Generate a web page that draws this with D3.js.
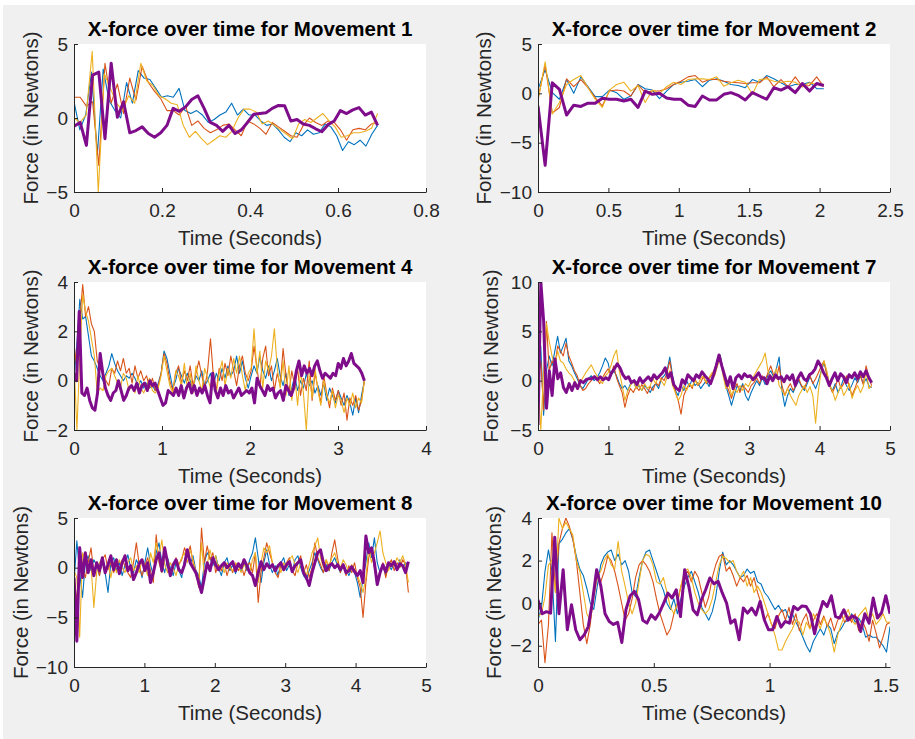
<!DOCTYPE html>
<html>
<head>
<meta charset="utf-8">
<script src="https://cdn.jsdelivr.net/npm/d3@7"></script>
<style>
  body { margin: 0; background: #fff; }
  svg { display: block; }
</style>
</head>
<body>
<div id="fig"></div>
<script>
// Movement 1 (0 .. 0.69 s)
const m1Blue = [1.1,-0.8,0.2,3.1,-2.5,3.3,1.2,0.5,0.0,2.4,1.0,3.2,2.7,2.6,2.0,1.4,1.5,1.4,2.0,0.5,0.3,0.5,0.2,-0.3,-0.1,0.2,0.4,1.0,0.2,0.6,0.2,0.2,-0.2,-0.5,-0.4,-0.8,-1.3,-1.6,-1.0,-1.2,-0.8,-1.1,-1.0,-0.4,-0.6,-1.2,-2.2,-1.6,-1.8,-1.5,-1.9,-1.1,-0.5];
const m1Orange = [1.4,1.4,0.8,1.1,-3.2,3.7,1.0,2.3,0.3,2.7,1.2,3.5,2.4,1.8,1.3,0.5,0.5,0.2,0.8,-0.5,-0.2,-0.7,-1.0,-0.8,-0.5,-0.4,-0.8,-1.2,-0.2,-0.4,-0.7,-1.1,-0.3,-0.6,-0.9,-1.2,-1.3,-0.5,0.0,-0.3,-0.5,-0.2,-0.3,-0.8,-1.5,-0.8,-0.7,-0.8,-0.4,-0.3];
const m1Yellow = [0.0,-0.3,0.2,4.5,-5.0,3.0,2.0,1.0,0.5,1.5,1.0,3.7,2.5,2.2,1.5,1.3,1.0,0.9,-0.5,-1.3,-0.9,-1.4,-1.8,-1.5,-1.2,-1.3,-0.9,0.0,0.6,0.6,0.4,-0.4,-0.2,-0.5,-0.8,-1.1,-1.4,-0.4,-0.1,-0.3,0.0,0.3,-0.2,-0.6,-1.3,-1.2,-1.0,-1.0,-0.9,-0.7,0.3];
const m1Purple = [-0.56,-0.3,-1.85,2.9,3.1,-1.4,3.7,0.05,1.1,-1.0,-0.85,-0.6,-1.05,-1.3,-1.0,-0.5,0.65,0.45,0.75,1.25,1.5,0.65,-0.3,-0.5,-0.9,-0.5,-1.05,-0.8,-0.3,0.25,0.3,0.35,0.65,0.85,0.82,-0.2,-0.1,-0.4,-0.5,-0.73,-0.93,-0.45,-0.2,0.5,0.3,0.55,0.7,0.2,0.4,-0.5];

// Movement 2 (0 .. 2.03 s)
const m2Blue = [0.4,2.4,0.07,-0.6,1.4,0,1.67,0.67,-0.33,-0.33,0.33,0.07,-0.6,-0.27,0.9,0.47,0.33,-0.53,0.23,0.9,1.13,1.23,1.4,0.67,1.33,1.47,1.23,0.9,0.8,0.57,1.4,1.13,1.8,1.47,1.07,0.67,0.9,0.9,1.13,0.47,0.47];
const m2Orange = [-0.6,2.9,-2.0,-1.43,1.47,0.67,1.4,0.57,-0.43,-1.27,0.23,0.33,0.23,-0.27,0.87,0.07,0.23,0.23,0.47,0.9,1.23,1.67,1.8,1.13,1.4,1.4,1.23,1.13,1.07,1.0,1.07,1.07,1.67,0.67,1.4,0.67,1.67,0.67,0.8,1.67,0.67];
const m2Yellow = [-0.77,3.2,-2.1,-0.93,0.9,1.4,1.8,0.57,-0.6,-1.43,0.33,0.9,1.13,0.23,0.8,-0.93,0.33,0,0.67,1.13,0.9,1.4,1.47,1.47,1.4,1.67,0.73,1.07,1.33,1.13,-0.1,1.4,1.47,1.23,1.13,1.23,1.13,0.67,1.07,0.9,0.8];
const m2Purple = [-1.27,-7.3,1.07,0.4,-2.2,-1.2,-1.33,-1.0,-1.0,-0.5,-0.6,-0.6,-0.77,-0.6,-1.43,0.23,-0.1,0,-0.47,-0.6,-0.6,-1.2,-1.33,-0.27,-0.67,-0.67,-0.1,0.07,-0.2,-0.67,0.07,-0.27,-0.6,0.57,0.33,0.67,0.07,1.0,0.23,1.0,0.8];

// Movement 4 (0 .. 3.3 s)
const m4Blue = [0.0,1.5,3.3,2.5,2.6,1.8,1.0,0.8,0.5,0.2,0.0,0.3,0.6,1.1,0.7,0.4,0.2,0.0,0.2,0.1,0.3,0.1,-0.2,0.0,-0.3,-0.1,-0.3,-0.2,-0.4,-0.1,0.3,1.2,0.9,0.3,-0.3,0.0,0.5,0.2,-0.1,0.3,0.0,-0.3,0.2,0.0,0.4,-0.2,0.0,0.3,-0.2,0.3,0.0,0.5,0.1,0.6,0.2,0.4,1.0,0.3,0.8,0.1,-0.3,0.2,0.6,0.3,1.0,0.4,0.1,0.6,0.0,0.4,0.9,0.2,-0.2,0.3,-0.6,-0.3,0.2,-0.4,0.0,-0.3,0.3,-0.2,0.0,-0.5,-0.2,-0.6,-0.1,-0.8,-0.3,-0.6,-0.9,-0.4,-0.7,-1.0,-0.6,-0.9,-1.4,-0.7,-1.3,-0.6,0.0];
const m4Orange = [1.5,0.5,2.5,3.9,2.6,3.0,2.3,2.0,0.8,0.5,0.3,0.0,-0.2,0.5,0.3,0.8,0.4,0.9,0.3,0.5,-0.1,0.6,0.1,0.4,0.0,0.2,-0.3,0.1,-0.4,-0.2,0.3,1.1,0.7,0.0,-0.4,0.3,0.6,-0.1,0.4,0.0,0.6,-0.2,0.3,0.8,0.2,-0.3,0.4,1.7,0.2,-0.4,0.5,0.0,0.7,0.2,1.0,0.4,-0.2,0.6,1.0,0.3,0.0,0.4,1.4,0.5,-0.3,0.9,1.4,0.2,0.6,-0.4,0.3,-0.2,1.3,0.2,-0.5,0.4,-0.2,0.5,-0.6,0.1,-0.4,0.8,-0.8,0.3,-0.3,-0.9,0.2,-0.5,-1.1,-0.3,-0.8,-0.4,-1.0,-0.5,-1.6,-0.7,-1.0,-0.6,-1.2,-0.8,0.0];
const m4Yellow = [0.8,-2.0,1.0,3.5,2.8,2.4,1.7,1.0,-0.5,-0.3,-0.4,0.2,0.4,0.5,0.2,-0.1,-0.3,0.3,0.1,-0.4,-0.2,-0.5,0.2,-0.3,-0.5,-0.2,0.1,-0.4,-0.5,-0.3,0.2,1.0,0.4,-0.2,-0.5,0.4,0.2,-0.2,0.7,-0.3,0.3,-0.5,0.6,0.0,-0.4,0.5,0.1,-0.3,0.4,-0.5,0.3,0.8,-0.2,0.5,0.1,0.9,0.3,1.0,0.2,-0.4,0.3,0.5,2.1,0.3,1.2,-0.3,0.8,0.4,1.0,2.1,0.5,-0.3,0.8,-0.6,0.6,-0.8,0.2,-1.0,0.4,-0.5,-2.0,0.2,-0.7,0.5,-0.4,-1.0,0.0,-0.6,-0.9,-0.4,-1.1,-0.6,-0.8,-1.3,-0.7,-1.0,-0.5,-1.1,-0.7,-0.9,0.0];
const m4Purple = [0.3,0.0,2.8,-0.5,-0.6,-0.3,-0.8,-1.1,-1.2,-0.5,1.1,0.3,-0.3,-0.6,-0.8,-0.5,-0.4,0.0,-0.4,-0.8,-0.6,-0.3,-0.2,-0.4,-0.1,-0.5,-0.2,-0.1,-0.4,0.0,-0.2,-0.1,-0.4,-0.7,-1.0,-0.9,-0.4,-0.5,-0.6,-0.3,-0.6,-0.2,-0.7,-0.3,-0.1,-0.5,-0.2,-0.6,-0.3,-0.5,-0.2,-0.6,-0.9,0.3,-0.4,-0.7,-0.3,-0.6,-0.2,-0.5,-0.4,-0.7,-0.5,-0.3,-0.6,-0.5,-0.4,-0.5,-0.3,-0.9,0.1,-0.2,-0.4,-0.6,-0.2,-0.4,-0.3,-0.7,-0.5,-0.4,-0.8,-0.2,-0.4,-0.6,-0.3,0.4,0.8,0.2,0.6,0.3,0.5,0.2,0.6,0.8,0.4,0.1,0.3,0.2,0.1,0.3,0.2,0.7,0.5,0.9,0.6,0.8,1.1,0.7,0.6,0.5,0.3,0.0];

// Movement 7 (0 .. 4.74 s)
const m7Blue = [0.0,3.5,-3.5,1.0,2.5,1.5,3.0,4.5,2.8,3.5,4.3,2.0,1.5,0.8,0.2,-0.5,-0.8,-0.3,0.2,0.5,0.0,0.3,0.8,1.5,2.3,1.8,0.5,1.0,0.5,-0.3,-0.8,-0.5,-1.0,-0.3,0.0,-0.8,-0.5,-1.0,-0.5,-0.8,-1.2,-0.6,-0.3,-0.8,0.2,0.5,1.0,2.4,0.5,-1.0,-1.5,-0.5,-1.0,0.0,-0.6,0.2,-0.5,-0.2,-0.8,-0.4,0.0,-0.6,0.3,1.0,2.2,2.6,1.0,-0.5,-1.5,-2.5,-1.5,-0.5,-1.0,-0.3,-1.5,-2.0,-1.2,-0.6,0.0,-0.5,0.3,-0.4,0.6,1.0,0.4,1.2,2.4,-1.0,-2.6,-1.5,-0.8,-1.2,-0.5,0.0,-0.6,-1.0,-0.3,0.4,-0.2,-0.8,0.0,1.0,1.8,0.8,-0.5,-1.0,-0.3,-1.2,-0.6,0.2,-0.5,-1.0,-0.4,0.3,-0.2,0.5,-0.3,0.2,-0.5,-0.7];
const m7Orange = [0.0,2.0,-3.0,6.0,1.0,2.0,1.5,3.5,3.0,2.5,3.8,2.5,1.8,1.0,0.5,-0.5,-1.0,-0.8,-0.3,0.0,0.5,0.2,-0.3,0.3,0.8,1.2,0.6,1.5,0.3,-0.5,-1.2,-2.7,-1.5,-0.8,-1.2,-0.6,-1.0,-0.4,-0.8,-1.3,-0.6,-1.0,-0.2,-0.5,0.3,0.0,0.8,2.0,0.2,-1.2,-2.0,-3.4,-1.5,-0.8,-0.3,-0.8,0.2,-0.5,-0.2,0.4,-0.3,0.2,0.6,1.2,1.8,2.5,0.8,-0.3,-1.0,-1.8,-0.8,-0.3,-1.2,-0.5,-0.8,-1.2,-0.5,-0.2,0.3,-0.3,0.5,0.0,0.8,1.5,0.6,0.2,1.5,-0.5,-1.5,-0.8,-0.3,-1.0,-0.4,0.2,-0.5,-0.8,0.0,0.5,-0.3,0.2,0.8,1.5,2.0,0.5,-0.5,-1.2,-0.6,0.2,-0.8,-0.3,0.5,-0.6,-1.5,-0.8,0.0,0.5,-0.4,1.5,0.3,-0.5];
const m7Yellow = [0.0,-5.0,1.0,5.8,4.0,2.5,1.5,3.0,2.0,1.8,1.2,0.8,0.5,0.0,-0.5,-0.2,0.3,0.8,1.2,1.6,1.0,0.5,0.0,-0.3,0.5,0.8,1.5,2.5,3.1,1.0,-0.5,-2.0,-1.0,-0.5,0.0,-0.8,-0.4,-1.0,-0.3,-0.8,-0.5,0.2,-0.3,0.5,0.0,-0.5,0.3,1.0,-0.5,-1.2,-2.0,-1.5,-0.5,-1.0,-0.3,-0.6,0.0,-0.4,0.2,0.5,-0.2,0.3,0.8,0.5,1.5,2.2,0.5,-0.8,-0.3,-1.5,-0.8,-1.2,-0.5,-1.0,-0.3,-0.6,0.0,0.5,1.0,1.5,2.0,2.8,1.0,0.2,0.5,1.2,-0.5,-1.0,-1.5,-0.8,-1.5,-2.0,-2.5,-1.5,-1.0,-0.5,-1.2,-0.6,-1.5,-4.3,-1.0,1.0,2.0,1.0,-0.5,-1.0,-2.0,-1.2,-0.5,-1.5,-1.0,-0.3,-1.8,-1.0,-0.5,-1.2,-0.6,1.0,-0.8,-0.5];
const m7Purple = [-4.5,10.0,6.0,-2.8,1.0,-1.5,2.2,0.2,0.8,-0.7,-1.2,-0.3,-1.0,-0.2,-0.8,0.0,-0.2,0.1,0.2,0.2,0.4,0.1,0.4,0.1,0.3,0.1,0.8,1.2,1.7,1.3,0.6,0.2,0.4,-0.2,0.0,-0.4,0.3,-0.2,0.1,0.4,0.0,0.6,0.2,0.5,0.8,1.3,0.3,0.8,-0.4,-0.8,-1.0,0.1,-0.3,0.6,0.3,0.0,0.6,0.3,0.9,0.5,0.2,-0.3,0.5,1.5,2.6,1.5,0.5,-0.5,0.4,-0.8,0.3,0.6,0.2,0.7,0.4,0.5,0.1,0.4,0.8,0.2,0.3,-0.3,0.5,0.0,0.6,0.2,0.4,-0.1,0.5,0.1,0.6,-0.5,0.3,0.8,0.2,0.0,0.6,0.8,1.2,2.0,1.5,0.8,0.3,-0.5,0.2,0.8,0.0,0.7,0.4,-0.2,0.6,0.3,0.8,0.2,0.9,0.4,1.0,0.3,-0.2];

// Movement 8 (0 .. 4.75 s)
const m8Blue = [-1.5,2.7,-0.5,-3.0,0.5,1.2,-0.3,0.8,0.2,-0.8,1.0,-0.5,-2.5,0.5,1.0,-0.3,0.5,-0.8,0.3,1.3,0.0,-0.5,0.8,0.2,-1.0,0.5,2.0,0.3,-0.8,1.5,2.5,0.5,-0.5,1.0,0.0,-0.8,0.5,-0.3,-1.0,0.8,1.5,0.3,1.2,-0.3,-0.8,-2.0,0.5,1.5,1.0,0.2,1.2,0.0,-0.8,0.5,1.0,-0.3,0.3,-0.6,0.2,-0.4,0.5,-0.3,0.8,1.5,3.0,1.0,-1.5,0.5,1.8,0.3,-0.5,0.2,-0.8,0.5,1.0,-0.3,0.3,-0.5,0.8,1.2,0.0,-0.8,-1.2,-0.3,0.5,1.5,0.8,0.0,-0.5,0.3,-0.3,0.5,1.0,0.2,-0.5,0.3,-0.2,-0.8,0.0,-0.5,-1.5,-3.0,-1.0,0.5,2.5,1.0,3.0,0.5,-0.5,0.2,-0.8,0.3,-0.2,0.5,-0.3,0.8,0.0,0.5,0.3];
const m8Orange = [-0.5,-3.5,1.5,0.0,-1.0,0.5,2.0,-0.5,0.3,-0.8,0.8,1.3,-0.2,0.5,-0.5,0.3,-0.3,0.8,0.2,-0.5,-1.0,0.5,2.5,0.3,-0.8,0.2,1.0,-0.3,-1.5,3.3,0.5,-0.5,1.5,0.8,-0.5,0.0,1.0,0.3,0.8,2.0,1.2,2.2,0.5,-0.3,-2.0,4.0,0.5,2.2,0.8,1.5,-0.5,0.3,-0.3,0.5,-0.8,0.2,-0.5,0.4,-0.3,0.3,-0.8,0.2,0.5,-0.5,1.5,-3.5,-0.5,1.0,2.5,1.5,0.5,-0.5,-1.0,0.3,-0.3,0.5,1.0,-0.3,-0.8,0.5,1.2,-0.5,0.3,-1.0,0.0,2.5,1.0,0.3,-0.5,0.8,-0.3,1.5,2.8,1.0,-0.5,0.3,-0.8,0.2,-0.5,0.5,-1.0,-2.0,-5.0,-1.5,1.0,2.0,0.0,-1.0,-0.5,0.5,-1.0,0.3,0.8,-0.3,0.5,0.0,0.8,0.3,-2.5];
const m8Yellow = [-0.3,-1.0,-7.0,1.5,0.8,-0.5,0.3,-4.0,-0.5,0.5,1.0,-0.3,0.5,-1.0,0.5,-0.5,0.8,0.0,-0.5,0.5,1.0,-0.3,0.2,-0.5,0.8,0.3,-0.8,1.5,0.5,2.5,1.0,2.8,0.3,-0.5,0.5,0.0,-0.8,0.3,1.0,1.5,0.5,1.8,0.8,-0.5,-1.5,2.5,-1.0,0.3,1.8,0.5,1.2,-0.3,0.2,-0.5,0.5,0.0,-0.3,0.5,0.2,-0.5,0.3,0.0,-0.5,0.8,1.5,-1.5,0.5,2.0,1.5,2.2,0.5,-0.3,0.3,-0.5,0.5,0.0,0.8,1.2,0.3,-0.5,0.5,0.0,-0.8,0.3,1.5,2.2,3.0,1.0,0.0,0.8,0.2,1.0,1.5,0.5,0.0,0.8,0.3,-0.5,0.3,-0.2,-0.8,-1.5,-2.5,-1.0,2.0,0.5,1.5,2.5,3.7,1.5,0.5,-0.3,0.5,0.2,1.0,0.5,1.2,0.3,-1.5];
const m8Purple = [-1.0,-7.4,2.0,-1.0,1.5,-0.5,0.8,-0.8,0.5,-0.3,1.0,-0.5,0.3,1.2,-0.2,0.8,-0.6,0.5,1.2,-0.3,0.2,-1.2,-0.5,0.4,0.8,-0.3,0.5,-1.5,-0.5,0.8,1.5,-0.3,2.0,0.5,-0.8,0.3,0.8,-0.2,-0.5,0.3,1.8,0.5,0.0,-0.5,-1.5,-2.5,-1.0,0.5,-0.3,1.0,0.3,-0.2,0.2,0.5,0.0,0.3,0.6,-0.3,0.4,0.0,0.8,0.2,-0.5,-0.8,-1.8,-0.5,0.6,-0.2,0.4,0.0,0.3,-0.3,0.2,0.5,-0.2,0.3,0.6,-0.4,0.2,0.5,0.8,-0.5,-1.0,-1.8,-0.5,0.5,1.5,1.8,0.5,-0.3,0.2,0.4,0.0,0.3,-0.2,0.3,-0.5,-0.3,0.1,-0.4,-0.8,-0.3,-1.5,3.2,1.5,2.0,0.5,-1.7,-0.5,0.3,-0.4,0.5,0.2,0.6,-0.2,0.4,0.2,-0.5,0.6];

// Movement 10 (0 .. 1.52 s)
const m10Blue = [-0.8,-0.2,1.5,2.5,1.5,-1.8,2.8,3.0,3.3,3.5,3.0,2.2,1.6,1.3,0.7,0.0,-0.3,0.8,1.8,2.2,2.4,2.5,2.0,2.3,1.8,2.0,1.5,0.5,0.3,1.2,2.0,2.4,2.5,2.0,1.5,1.0,0.6,0.0,-0.3,0.2,-0.5,0.2,0.8,1.2,1.5,1.0,0.5,-0.2,-0.5,-0.8,-0.4,0.3,1.5,2.4,1.8,2.0,1.8,1.5,1.2,1.3,1.6,1.4,1.5,1.0,0.9,0.5,0.3,0.0,-0.3,-0.1,-0.4,-0.3,-0.7,-0.5,-0.9,-1.2,-1.6,-2.0,-2.3,-1.8,-1.5,-1.2,-1.5,-1.0,-1.2,-1.9,-1.4,-1.2,-0.9,-0.8,-0.5,-0.9,-0.7,-1.0,-1.6,-1.5,-1.6,-1.6,-1.8,-2.0,-2.3,-1.1];
const m10Orange = [-1.0,-0.8,-2.8,-1.0,3.3,0.5,2.8,3.5,4.0,3.6,3.0,2.0,0.5,-1.0,-1.9,-1.0,0.5,1.3,1.0,1.5,2.2,2.0,1.5,0.8,0.0,-0.8,-0.5,0.2,1.2,1.8,2.0,1.8,1.5,1.0,0.2,-0.5,-1.0,-1.5,-1.2,-0.5,0.0,0.8,1.3,1.5,1.0,1.5,1.2,0.5,-0.2,0.3,1.2,1.8,2.2,2.3,1.5,1.7,1.3,0.8,1.2,1.0,1.3,0.8,1.2,0.5,0.0,-0.8,-0.5,-1.0,-1.2,-0.6,-0.3,-0.8,-0.2,-1.0,-0.5,-1.3,-0.8,-0.5,-1.2,-0.8,-0.5,-1.0,-0.6,-1.1,-0.7,-1.3,-0.8,-0.5,-0.9,-0.6,-0.9,-0.5,-1.3,-0.8,-1.2,-1.8,-0.8,-1.4,-2.1,-1.6,-1.0,-0.9];
const m10Yellow = [-0.6,-0.5,0.3,1.8,2.0,0.5,4.0,3.5,3.8,3.5,3.2,2.0,1.5,0.5,-0.5,-0.8,0.2,1.2,1.5,2.0,2.3,1.8,1.6,2.9,1.5,0.8,0.0,-0.5,0.0,1.0,2.0,2.3,2.2,1.8,1.0,0.9,1.2,0.5,-0.2,-0.5,0.0,0.8,1.5,1.6,1.2,0.5,0.0,-0.3,-0.5,-0.3,0.2,1.0,1.8,2.2,2.1,1.9,2.0,1.5,1.2,1.5,0.8,1.2,0.5,0.8,0.5,0.0,-0.5,-1.0,-1.5,-2.2,-2.2,-1.8,-1.5,-1.2,-0.8,-0.9,-1.5,-0.9,-1.2,-0.5,-0.8,-1.2,-0.7,-1.0,-1.5,-2.3,-1.5,-1.0,-0.6,-0.3,-0.8,-1.0,-0.6,-0.4,-0.2,-0.8,-0.5,-1.0,-0.8,-0.5,-0.9,-0.9];
const m10Purple = [0.15,-0.5,-0.4,-0.47,3.1,-0.5,1.57,-1.25,-0.08,-1.25,-1.72,-1.5,-1.1,0.08,1.57,0.8,-0.5,-0.86,-1.0,-0.9,-1.85,-0.3,0.35,0.55,0.16,-0.8,-0.94,-0.55,-0.75,-0.44,0.0,0.47,0.24,0.63,-0.63,1.57,0.78,-0.31,-0.55,0.16,0.63,1.18,0.91,1.02,0.47,0.0,-0.94,-0.78,-1.72,-0.23,-0.47,-0.23,-0.55,0.08,-0.78,-1.25,-1.25,-0.63,-1.13,-0.86,-0.94,-0.16,-0.31,-0.13,-0.16,-0.5,-1.44,-0.55,0.08,-0.16,0.35,-0.63,-0.7,-0.31,-0.8,-0.6,-0.7,-1.33,-0.5,-0.94,0.24,-0.7,-0.44,0.35,-0.5];

// tick values
const m1XTicks = [0, 0.2, 0.4, 0.6, 0.8], m1YTicks = [-5, 0, 5];
const m2XTicks = [0, 0.5, 1, 1.5, 2, 2.5], m2YTicks = [-10, -5, 0, 5];
const m4XTicks = [0, 1, 2, 3, 4], m4YTicks = [-2, 0, 2, 4];
const m7XTicks = [0, 1, 2, 3, 4, 5], m7YTicks = [-5, 0, 5, 10];
const m8XTicks = [0, 1, 2, 3, 4, 5], m8YTicks = [-10, -5, 0, 5];
const m10XTicks = [0, 0.5, 1, 1.5], m10YTicks = [-2, 0, 2, 4];

const colors = ["#0072BD", "#D95319", "#EDB120", "#7E0C8B"];
const font = "'Liberation Sans', Arial, Helvetica, sans-serif";

const panels = [
  {title: "X-force over time for Movement 1", tEnd: 0.69, series: [m1Blue, m1Orange, m1Yellow, m1Purple],
   xDomain: [0, 0.8], xTicks: m1XTicks, yDomain: [-5, 5], yTicks: m1YTicks, col: 0, row: 0, labelGap: 36},
  {title: "X-force over time for Movement 2", tEnd: 2.03, series: [m2Blue, m2Orange, m2Yellow, m2Purple],
   xDomain: [0, 2.5], xTicks: m2XTicks, yDomain: [-10, 5], yTicks: m2YTicks, col: 1, row: 0, labelGap: 47},
  {title: "X-force over time for Movement 4", tEnd: 3.3, series: [m4Blue, m4Orange, m4Yellow, m4Purple],
   xDomain: [0, 4], xTicks: m4XTicks, yDomain: [-2, 4], yTicks: m4YTicks, col: 0, row: 1, labelGap: 36},
  {title: "X-force over time for Movement 7", tEnd: 4.74, series: [m7Blue, m7Orange, m7Yellow, m7Purple],
   xDomain: [0, 5], xTicks: m7XTicks, yDomain: [-5, 10], yTicks: m7YTicks, col: 1, row: 1, labelGap: 40},
  {title: "X-force over time for Movement 8", tEnd: 4.75, series: [m8Blue, m8Orange, m8Yellow, m8Purple],
   xDomain: [0, 5], xTicks: m8XTicks, yDomain: [-10, 5], yTicks: m8YTicks, col: 0, row: 2, labelGap: 46},
  {title: "X-force over time for Movement 10", tEnd: 1.52, series: [m10Blue, m10Orange, m10Yellow, m10Purple],
   xDomain: [0, 1.52], xTicks: m10XTicks, yDomain: [-3, 4], yTicks: m10YTicks, col: 1, row: 2, labelGap: 37}
];

const width = 915, height = 739;
const colLeft = [74, 538], colRight = [426, 890];
const rowTop = [44, 282, 518], rowBottom = [192, 430, 667];

const svg = d3.select("#fig").append("svg")
  .attr("width", width)
  .attr("height", height);

svg.append("rect")
  .attr("x", 3).attr("y", 5)
  .attr("width", width - 3).attr("height", height - 5)
  .attr("fill", "#f0f0f0");

panels.forEach((p, k) => {
  const x0 = colLeft[p.col], x1 = colRight[p.col],
    y0 = rowTop[p.row], y1 = rowBottom[p.row];

  const x = d3.scaleLinear().domain(p.xDomain).range([x0, x1]);
  const y = d3.scaleLinear().domain(p.yDomain).range([y1, y0]);

  const g = svg.append("g");

  g.append("rect")
    .attr("x", x0).attr("y", y0)
    .attr("width", x1 - x0).attr("height", y1 - y0)
    .attr("fill", "#fff");

  g.append("clipPath").attr("id", "clip" + k)
    .append("rect")
    .attr("x", x0).attr("y", y0)
    .attr("width", x1 - x0).attr("height", y1 - y0);

  const lines = g.append("g").attr("clip-path", "url(#clip" + k + ")");

  p.series.forEach((s, j) => {
    const line = d3.line()
      .x((d, i) => x(i / (s.length - 1) * p.tEnd))
      .y(d => y(d));
    lines.append("path")
      .datum(s)
      .attr("fill", "none")
      .attr("stroke", colors[j])
      .attr("stroke-width", j == 3 ? 3 : 1.1)
      .attr("stroke-linejoin", "round")
      .attr("d", line);
  });

  const fmt = d3.format("~g");

  const xAxis = g.append("g")
    .attr("transform", `translate(0,${y1})`)
    .call(d3.axisBottom(x).tickValues(p.xTicks).tickFormat(fmt)
      .tickSizeInner(-4).tickSizeOuter(0).tickPadding(12));

  const yAxis = g.append("g")
    .attr("transform", `translate(${x0},0)`)
    .call(d3.axisLeft(y).tickValues(p.yTicks).tickFormat(fmt)
      .tickSizeInner(-4).tickSizeOuter(0).tickPadding(6));

  [xAxis, yAxis].forEach(a => {
    a.attr("font-family", font).attr("font-size", 19);
    a.selectAll("path, line").attr("stroke", "#262626");
    a.selectAll("text").attr("fill", "#262626");
  });

  g.append("text")
    .attr("x", (x0 + x1) / 2).attr("y", y0 - 8)
    .attr("text-anchor", "middle")
    .attr("font-family", font).attr("font-size", 20.5).attr("font-weight", "bold")
    .attr("fill", "#000")
    .text(p.title);

  g.append("text")
    .attr("x", (x0 + x1) / 2).attr("y", y1 + 53)
    .attr("text-anchor", "middle")
    .attr("font-family", font).attr("font-size", 20.5)
    .attr("fill", "#262626")
    .text("Time (Seconds)");

  g.append("text")
    .attr("transform", `translate(${x0 - p.labelGap},${(y0 + y1) / 2}) rotate(-90)`)
    .attr("text-anchor", "middle")
    .attr("font-family", font).attr("font-size", 20.5)
    .attr("fill", "#262626")
    .text("Force (in Newtons)");
});
</script>
</body>
</html>
